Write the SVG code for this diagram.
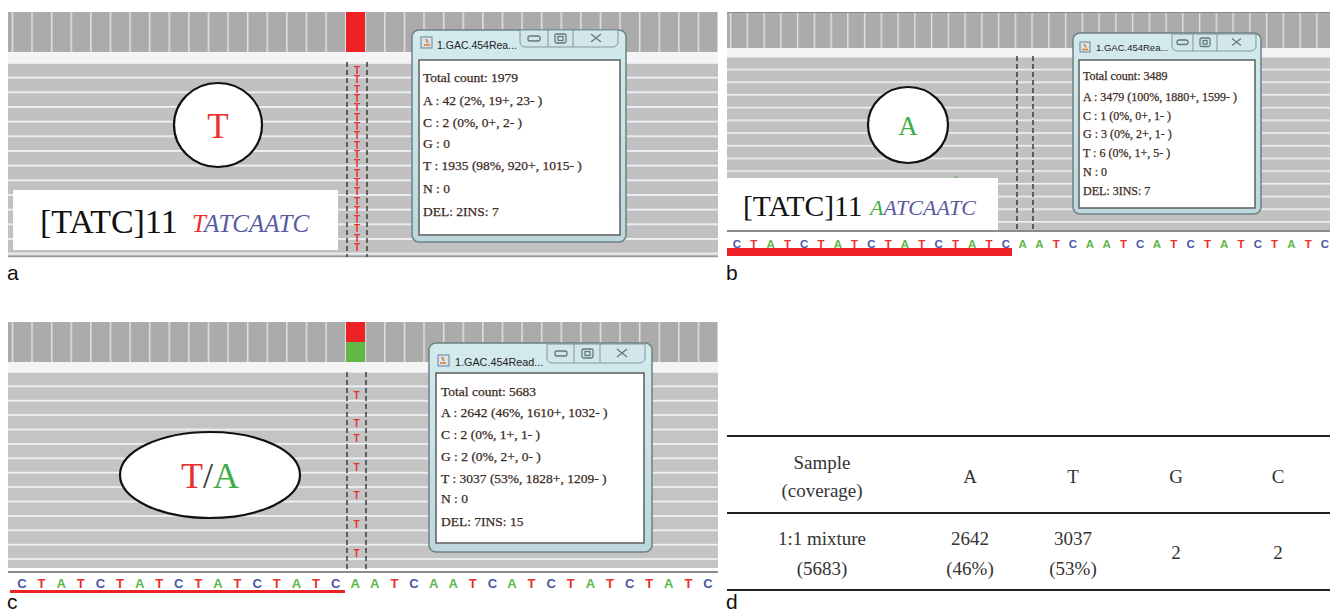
<svg xmlns="http://www.w3.org/2000/svg" width="1330" height="614" viewBox="0 0 1330 614">
<defs>
<style>
.lbl{font-family:"Liberation Sans",Arial,sans-serif;font-size:21px;fill:#111}
.pop{font-family:"Liberation Serif","Times New Roman",serif;fill:#3a2a22;stroke:#3a2a22;stroke-width:0.25}
.ttl{font-family:"Liberation Sans",Arial,sans-serif;fill:#222}
.win{fill:url(#winG);stroke:#6f8082;stroke-width:1.5}
.inner{fill:#fff;stroke:#666;stroke-width:1.6}
.btns{fill:#d3e7ea;stroke:#7f9799;stroke-width:1}
.bi{fill:none;stroke:#5f7a80;stroke-width:1.3}
.dash{stroke:#333;stroke-width:1.4;stroke-dasharray:5 3}
.colT{font-family:"Liberation Sans",Arial,sans-serif;font-weight:bold;font-size:10px;fill:#e8302f;text-anchor:middle}
.sq{font-family:"Liberation Sans",Arial,sans-serif;font-weight:bold;text-anchor:middle}
.sb{font-size:11.5px}
.sc{font-size:13px}
.C{fill:#4b57a6}.T{fill:#e8302f}.A{fill:#5db84a}
.big{font-family:"Liberation Serif","Times New Roman",serif}
.ital{font-family:"Liberation Serif","Times New Roman",serif;font-style:italic}
.tb{font-family:"Liberation Serif","Times New Roman",serif;font-size:19px;fill:#333;text-anchor:middle}
.rule{stroke:#222;stroke-width:2.2}
</style>
<linearGradient id="winG" x1="0" y1="0" x2="0" y2="1">
<stop offset="0" stop-color="#d4ebee"/><stop offset="1" stop-color="#bcd8dc"/>
</linearGradient>
<pattern id="covA" patternUnits="userSpaceOnUse" x="11.7" y="0" width="19.6" height="10"><rect width="19.6" height="10" fill="#ababab"/><rect width="1.5" height="10" fill="#e2e2e2"/></pattern>
<pattern id="covB" patternUnits="userSpaceOnUse" x="729.9" y="0" width="16.75" height="10"><rect width="16.75" height="10" fill="#ababab"/><rect width="1.4" height="10" fill="#e2e2e2"/></pattern>
<pattern id="rowsA" patternUnits="userSpaceOnUse" x="0" y="62" width="10" height="14.67"><rect width="10" height="14.67" fill="#c1c1c1"/><rect width="10" height="1.8" fill="#eef2f6"/></pattern>
<pattern id="rowsB" patternUnits="userSpaceOnUse" x="0" y="56" width="10" height="12.7"><rect width="10" height="12.7" fill="#c1c1c1"/><rect width="10" height="1.6" fill="#eef2f6"/></pattern>
<pattern id="rowsC" patternUnits="userSpaceOnUse" x="0" y="371" width="10" height="14.4"><rect width="10" height="14.4" fill="#c4c4c4"/><rect width="10" height="1.8" fill="#eef2f6"/></pattern>
</defs>
<rect width="1330" height="614" fill="#fff"/>

<g id="panel-a">
<rect x="8" y="12" width="710" height="40" fill="url(#covA)"/>
<rect x="346" y="12" width="19" height="40" fill="#ee2224"/>
<rect x="8" y="52" width="710" height="10" fill="#f4f4f4"/>
<rect x="8" y="62" width="710" height="195" fill="url(#rowsA)"/>
<line x1="8" y1="256.5" x2="718" y2="256.5" stroke="#9a9a9a" stroke-width="1.5"/>
<line class="dash" x1="347" y1="62" x2="347" y2="257"/>
<line class="dash" x1="367" y1="62" x2="367" y2="257"/>
<g>
<text class="colT" x="357" y="74">T</text><text class="colT" x="357" y="83.3">T</text><text class="colT" x="357" y="92.6">T</text><text class="colT" x="357" y="102">T</text><text class="colT" x="357" y="111.3">T</text><text class="colT" x="357" y="120.6">T</text><text class="colT" x="357" y="129.9">T</text><text class="colT" x="357" y="139.2">T</text><text class="colT" x="357" y="148.6">T</text><text class="colT" x="357" y="157.9">T</text><text class="colT" x="357" y="167.2">T</text><text class="colT" x="357" y="176.5">T</text><text class="colT" x="357" y="185.8">T</text><text class="colT" x="357" y="195.2">T</text><text class="colT" x="357" y="204.5">T</text><text class="colT" x="357" y="213.8">T</text><text class="colT" x="357" y="223.1">T</text><text class="colT" x="357" y="232.4">T</text><text class="colT" x="357" y="241.8">T</text><text class="colT" x="357" y="251.1">T</text>
</g>
<ellipse cx="218" cy="125" rx="44" ry="42" fill="#fff" stroke="#111" stroke-width="2.2"/>
<text class="big" x="218" y="138" font-size="35" fill="#e8302f" text-anchor="middle">T</text>
<rect x="13" y="190" width="325" height="60" fill="#fff"/>
<text class="big" x="40" y="233" font-size="34" fill="#111">[TATC]11</text>
<text class="ital" x="192" y="232" font-size="25" fill="#5a5aa0"><tspan fill="#e8302f">T</tspan>ATCAATC</text>
<g id="popup-a">
<rect class="win" x="412" y="30" width="214" height="212" rx="7"/>
<rect x="421" y="37" width="11" height="11" fill="#dbe4ec" stroke="#6a7f96" stroke-width="1"/>
<path d="M424,45 h6 M426,39 l2,4" stroke="#d77b22" stroke-width="1.6" fill="none"/>
<text class="ttl" x="437" y="49" font-size="10.5">1.GAC.454Rea...</text>
<path class="btns" d="M520,30 h98 v12 a5,5 0 0 1 -5,5 h-88 a5,5 0 0 1 -5,-5 z"/>
<line x1="548" y1="30" x2="548" y2="47" stroke="#7f9799"/>
<line x1="573" y1="30" x2="573" y2="47" stroke="#7f9799"/>
<rect class="bi" x="528" y="36" width="12" height="5" rx="2"/>
<rect class="bi" x="555" y="34" width="11" height="9" rx="1.5"/><rect class="bi" x="558" y="36.5" width="5" height="4"/>
<path class="bi" d="M591,34 l10,8 M601,34 l-10,8"/>
<rect class="inner" x="419" y="60" width="201" height="175"/>
<g class="pop" font-size="13.5">
<text x="423" y="82">Total count: 1979</text>
<text x="423" y="104.5">A : 42 (2%, 19+, 23- )</text>
<text x="423" y="126.5">C : 2 (0%, 0+, 2- )</text>
<text x="423" y="147.5">G : 0</text>
<text x="423" y="170">T : 1935 (98%, 920+, 1015- )</text>
<text x="423" y="193">N : 0</text>
<text x="423" y="216">DEL: 2INS: 7</text>
</g>
</g>
<text class="lbl" x="7" y="280">a</text>
</g>

<g id="panel-b">
<rect x="727" y="12" width="603" height="36" fill="url(#covB)"/>
<line x1="727" y1="12.5" x2="1330" y2="12.5" stroke="#8a8a8a" stroke-width="1"/>
<rect x="727" y="48" width="603" height="8" fill="#f4f4f4"/>
<rect x="727" y="56" width="603" height="174" fill="url(#rowsB)"/>
<line x1="727" y1="231" x2="1330" y2="231" stroke="#8c8c8c" stroke-width="2"/>
<line class="dash" x1="1017" y1="56" x2="1017" y2="230"/>
<line class="dash" x1="1033" y1="56" x2="1033" y2="230"/>
<text x="956" y="182" font-family="Liberation Sans,Arial,sans-serif" font-weight="bold" font-size="9" fill="#5db84a" text-anchor="middle">A</text>
<ellipse cx="908" cy="125" rx="40" ry="38" fill="#fff" stroke="#111" stroke-width="2.2"/>
<text class="big" x="908" y="135" font-size="27" fill="#3fae49" text-anchor="middle">A</text>
<rect x="727" y="178" width="271" height="52" fill="#fff"/>
<text class="big" x="743" y="216" font-size="29.5" fill="#111">[TATC]11</text>
<text class="ital" x="870" y="215" font-size="22" fill="#5a5aa0"><tspan fill="#3fae49">A</tspan>ATCAATC</text>
<rect x="727" y="248" width="285" height="8" fill="#ee2224"/>
<g class="sq sb">
<text class="C" x="737" y="247.5">C</text><text class="T" x="753.8" y="247.5">T</text><text class="A" x="770.6" y="247.5">A</text><text class="T" x="787.4" y="247.5">T</text><text class="C" x="804.2" y="247.5">C</text><text class="T" x="821" y="247.5">T</text><text class="A" x="837.8" y="247.5">A</text><text class="T" x="854.6" y="247.5">T</text><text class="C" x="871.4" y="247.5">C</text><text class="T" x="888.2" y="247.5">T</text><text class="A" x="905" y="247.5">A</text><text class="T" x="921.8" y="247.5">T</text><text class="C" x="938.6" y="247.5">C</text><text class="T" x="955.4" y="247.5">T</text><text class="A" x="972.2" y="247.5">A</text><text class="T" x="989" y="247.5">T</text><text class="C" x="1005.8" y="247.5">C</text><text class="A" x="1022.6" y="247.5">A</text><text class="A" x="1039.4" y="247.5">A</text><text class="T" x="1056.2" y="247.5">T</text><text class="C" x="1073" y="247.5">C</text><text class="A" x="1089.8" y="247.5">A</text><text class="A" x="1106.6" y="247.5">A</text><text class="T" x="1123.4" y="247.5">T</text><text class="C" x="1140.2" y="247.5">C</text><text class="A" x="1157" y="247.5">A</text><text class="T" x="1173.8" y="247.5">T</text><text class="C" x="1190.6" y="247.5">C</text><text class="T" x="1207.4" y="247.5">T</text><text class="A" x="1224.2" y="247.5">A</text><text class="T" x="1241" y="247.5">T</text><text class="C" x="1257.8" y="247.5">C</text><text class="T" x="1274.6" y="247.5">T</text><text class="A" x="1291.4" y="247.5">A</text><text class="T" x="1308.2" y="247.5">T</text><text class="C" x="1325" y="247.5">C</text>
</g>
<g id="popup-b">
<rect class="win" x="1073" y="33" width="188" height="181" rx="7"/>
<rect x="1080" y="42" width="10" height="10" fill="#dbe4ec" stroke="#6a7f96" stroke-width="1"/>
<path d="M1082,49.5 h6 M1084,44 l2,3.5" stroke="#d77b22" stroke-width="1.5" fill="none"/>
<text class="ttl" x="1096" y="51" font-size="9.5">1.GAC.454Rea...</text>
<path class="btns" d="M1172,34 h84 v12 a5,5 0 0 1 -5,5 h-74 a5,5 0 0 1 -5,-5 z"/>
<line x1="1193" y1="34" x2="1193" y2="51" stroke="#7f9799"/>
<line x1="1217" y1="34" x2="1217" y2="51" stroke="#7f9799"/>
<rect class="bi" x="1177" y="40" width="11" height="4.5" rx="2"/>
<rect class="bi" x="1200" y="38" width="10" height="8.5" rx="1.5"/><rect class="bi" x="1203" y="40.5" width="4" height="3.5"/>
<path class="bi" d="M1232,38.5 l9,7 M1241,38.5 l-9,7"/>
<rect class="inner" x="1079" y="60" width="176" height="148"/>
<g class="pop" font-size="12">
<text x="1083" y="79.5">Total count: 3489</text>
<text x="1083" y="100.5">A : 3479 (100%, 1880+, 1599- )</text>
<text x="1083" y="119.5">C : 1 (0%, 0+, 1- )</text>
<text x="1083" y="138">G : 3 (0%, 2+, 1- )</text>
<text x="1083" y="157">T : 6 (0%, 1+, 5- )</text>
<text x="1083" y="175.5">N : 0</text>
<text x="1083" y="194.5">DEL: 3INS: 7</text>
</g>
</g>
<text class="lbl" x="726" y="280">b</text>
</g>

<g id="panel-c">
<rect x="8" y="322" width="710" height="40" fill="url(#covA)"/>
<rect x="346" y="322" width="19" height="20" fill="#ee2224"/>
<rect x="346" y="342" width="19" height="20" fill="#62b846"/>
<rect x="8" y="362" width="710" height="9" fill="#f4f4f4"/>
<rect x="8" y="371" width="710" height="197" fill="url(#rowsC)"/>
<line x1="8" y1="572" x2="718" y2="572" stroke="#8c8c8c" stroke-width="2"/>
<line class="dash" x1="347" y1="372" x2="347" y2="570"/>
<line class="dash" x1="366" y1="372" x2="366" y2="570"/>
<g>
<text class="colT" x="356.5" y="399">T</text><text class="colT" x="356.5" y="427">T</text><text class="colT" x="356.5" y="442">T</text><text class="colT" x="356.5" y="471">T</text><text class="colT" x="356.5" y="499">T</text><text class="colT" x="356.5" y="528">T</text><text class="colT" x="356.5" y="557">T</text>
</g>
<ellipse cx="210" cy="475" rx="90" ry="43" fill="#fff" stroke="#111" stroke-width="2.2"/>
<text class="big" x="210" y="488" font-size="36" text-anchor="middle"><tspan fill="#e8302f">T</tspan><tspan fill="#333">/</tspan><tspan fill="#3fae49">A</tspan></text>
<rect x="10" y="590" width="335" height="3" fill="#ee2224"/>
<g class="sq sc">
<text class="C" x="22" y="588">C</text><text class="T" x="41.6" y="588">T</text><text class="A" x="61.2" y="588">A</text><text class="T" x="80.8" y="588">T</text><text class="C" x="100.4" y="588">C</text><text class="T" x="120" y="588">T</text><text class="A" x="139.6" y="588">A</text><text class="T" x="159.2" y="588">T</text><text class="C" x="178.8" y="588">C</text><text class="T" x="198.4" y="588">T</text><text class="A" x="218" y="588">A</text><text class="T" x="237.6" y="588">T</text><text class="C" x="257.2" y="588">C</text><text class="T" x="276.8" y="588">T</text><text class="A" x="296.4" y="588">A</text><text class="T" x="316" y="588">T</text><text class="C" x="335.6" y="588">C</text><text class="A" x="355.2" y="588">A</text><text class="A" x="374.8" y="588">A</text><text class="T" x="394.4" y="588">T</text><text class="C" x="414" y="588">C</text><text class="A" x="433.6" y="588">A</text><text class="A" x="453.2" y="588">A</text><text class="T" x="472.8" y="588">T</text><text class="C" x="492.4" y="588">C</text><text class="A" x="512" y="588">A</text><text class="T" x="531.6" y="588">T</text><text class="C" x="551.2" y="588">C</text><text class="T" x="570.8" y="588">T</text><text class="A" x="590.4" y="588">A</text><text class="T" x="610" y="588">T</text><text class="C" x="629.6" y="588">C</text><text class="T" x="649.2" y="588">T</text><text class="A" x="668.8" y="588">A</text><text class="T" x="688.4" y="588">T</text><text class="C" x="708" y="588">C</text>
</g>
<g id="popup-c">
<rect class="win" x="429" y="343" width="223" height="209" rx="7"/>
<rect x="438" y="355" width="11" height="11" fill="#dbe4ec" stroke="#6a7f96" stroke-width="1"/>
<path d="M440,363 h6 M442,357 l2,4" stroke="#d77b22" stroke-width="1.6" fill="none"/>
<text class="ttl" x="455" y="366" font-size="10.8">1.GAC.454Read...</text>
<path class="btns" d="M547,344 h98 v14 a5,5 0 0 1 -5,5 h-88 a5,5 0 0 1 -5,-5 z"/>
<line x1="574" y1="344" x2="574" y2="363" stroke="#7f9799"/>
<line x1="600" y1="344" x2="600" y2="363" stroke="#7f9799"/>
<rect class="bi" x="555" y="351" width="12" height="5" rx="2"/>
<rect class="bi" x="582" y="349" width="11" height="9" rx="1.5"/><rect class="bi" x="585" y="351.5" width="5" height="4"/>
<path class="bi" d="M617,349 l10,8 M627,349 l-10,8"/>
<rect class="inner" x="436" y="373" width="208" height="170"/>
<g class="pop" font-size="13.5">
<text x="441" y="396">Total count: 5683</text>
<text x="441" y="417">A : 2642 (46%, 1610+, 1032- )</text>
<text x="441" y="439">C : 2 (0%, 1+, 1- )</text>
<text x="441" y="461">G : 2 (0%, 2+, 0- )</text>
<text x="441" y="483">T : 3037 (53%, 1828+, 1209- )</text>
<text x="441" y="503">N : 0</text>
<text x="441" y="526">DEL: 7INS: 15</text>
</g>
</g>
<text class="lbl" x="7" y="609">c</text>
</g>

<g id="panel-d">
<line class="rule" x1="727" y1="436" x2="1330" y2="436"/>
<line class="rule" x1="727" y1="513" x2="1330" y2="513"/>
<line class="rule" x1="727" y1="590" x2="1330" y2="590"/>
<text class="tb" x="822" y="469">Sample</text>
<text class="tb" x="822" y="497">(coverage)</text>
<text class="tb" x="970" y="483">A</text>
<text class="tb" x="1073" y="483">T</text>
<text class="tb" x="1176" y="483">G</text>
<text class="tb" x="1278" y="483">C</text>
<text class="tb" x="822" y="545">1:1 mixture</text>
<text class="tb" x="822" y="575">(5683)</text>
<text class="tb" x="970" y="545">2642</text>
<text class="tb" x="970" y="575">(46%)</text>
<text class="tb" x="1073" y="545">3037</text>
<text class="tb" x="1073" y="575">(53%)</text>
<text class="tb" x="1176" y="559">2</text>
<text class="tb" x="1278" y="559">2</text>
<text class="lbl" x="726" y="609">d</text>
</g>
<g id="connectors"/>
</svg>
